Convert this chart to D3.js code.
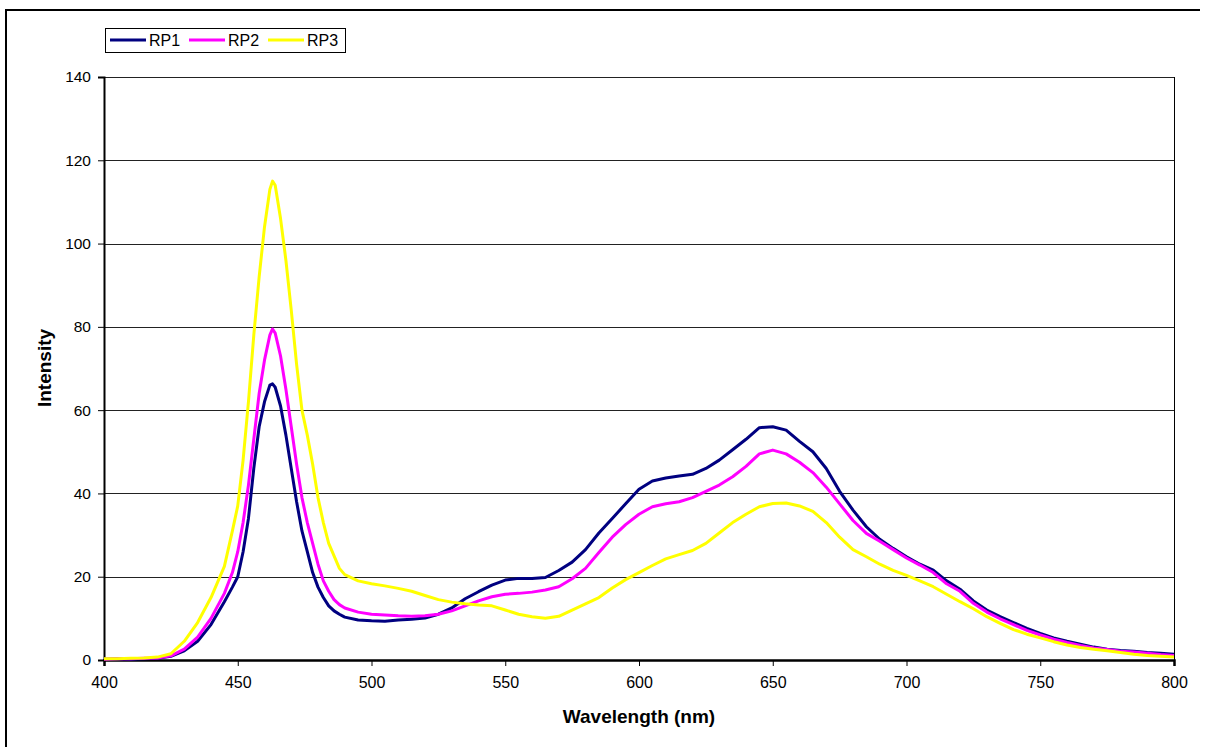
<!DOCTYPE html>
<html>
<head>
<meta charset="utf-8">
<script src="https://cdn.jsdelivr.net/npm/d3@7"></script>
<style>
  body { margin: 0; background: #fff; }
  text { font-family: "Liberation Sans", Arial, sans-serif; }
</style>
</head>
<body>
<svg id="chart"></svg>
<script>
// wavelengths (nm), denser around the blue peak
let wavelengths = [400,405,410,415,420,425,430,435,440,445,448,450,452,454,456,458,460,462,463,464,466,468,470,472,474,476,478,480,482,484,486,488,490,495,
  500,505,510,515,520,525,530,535,540,545,550,555,560,565,570,575,580,585,590,595,600,605,610,615,620,625,630,635,640,645,650,655,660,665,670,675,680,685,690,695,
  700,705,710,715,720,725,730,735,740,745,750,755,760,765,770,775,780,785,790,795,800];

let rp1 = [0.2,0.3,0.2,0.3,0.4,0.9,2.2,4.5,8.5,14,17.5,20,26,34,46,56,62,66,66.3,65.5,61,54,46,38,31,26,21,17.5,15,13,11.8,11,10.3,9.6,
  9.4,9.3,9.6,9.8,10.1,11,12.5,14.7,16.4,18,19.2,19.6,19.6,19.8,21.5,23.5,26.5,30.5,34,37.5,41,43,43.7,44.2,44.6,46,48,50.5,53,55.8,56,55.2,52.5,50,46,40.5,36,32,29,26.8,
  24.8,23,21.6,19,17,14.2,12,10.4,9,7.6,6.4,5.3,4.5,3.8,3.1,2.6,2.3,2.1,1.8,1.6,1.4];

let rp2 = [0.2,0.3,0.3,0.4,0.5,1,2.6,5.5,10,16,21,26,33,42,53,64,72,78,79.5,78.5,73,65,56,47,39,33,28,23,19,16.5,14.5,13.3,12.5,11.5,
  11,10.8,10.6,10.5,10.6,11,11.8,13,14.2,15.2,15.8,16,16.3,16.8,17.6,19.5,22,25.8,29.5,32.5,35,36.8,37.5,38,39,40.5,42,44,46.5,49.5,50.4,49.5,47.5,45,41.5,37.5,33.5,30.4,28.5,26.5,
  24.5,22.8,21,18.3,16.5,13.6,11.5,9.9,8.5,7.1,6,5,4.2,3.5,2.9,2.5,2.1,1.9,1.6,1.3,1.1];

let rp3 = [0.3,0.3,0.4,0.5,0.7,1.5,4.5,9,15,22.5,31,37,48,62,78,92,104,113,115,114,106,96,84,71,60,54,47,39,33,28,25,22,20.5,19,
  18.3,17.8,17.2,16.5,15.5,14.5,13.9,13.5,13.2,13,12,11,10.4,10,10.5,12,13.5,15,17.3,19.3,21,22.7,24.3,25.3,26.3,28,30.5,33,35,36.8,37.6,37.7,37,35.7,33,29.5,26.5,24.8,23,21.5,
  20.3,19,17.6,15.8,14,12.3,10.4,8.8,7.3,6.2,5.3,4.4,3.6,3,2.6,2.2,1.8,1.4,1.1,0.9,0.7];

let seriesNames = ["RP1", "RP2", "RP3"];
let seriesColors = ["#000080", "#FF00FF", "#FFFF00"];
let seriesValues = [rp1, rp2, rp3];

let xTicks = [400, 450, 500, 550, 600, 650, 700, 750, 800];
let yTicks = [0, 20, 40, 60, 80, 100, 120, 140];

let w = 1208;
let h = 747;
let plotLeft = 104, plotRight = 1174, plotTop = 77, plotBottom = 660;

let svg = d3.select("#chart").attr("width", w).attr("height", h);

// outer frame
svg.append("path")
   .attr("d", "M6,760 V10 H1200")
   .attr("fill", "none")
   .attr("stroke", "black")
   .attr("stroke-width", 2);

let scalex = d3.scaleLinear().domain([400, 800]).range([plotLeft, plotRight]);
let scaley = d3.scaleLinear().domain([0, 140]).range([plotBottom, plotTop]);

// gridlines
svg.append("g")
   .selectAll("line")
   .data(yTicks.filter(d => d > 0))
   .enter()
   .append("line")
   .attr("x1", plotLeft).attr("x2", plotRight)
   .attr("y1", d => Math.round(scaley(d)) + 0.5)
   .attr("y2", d => Math.round(scaley(d)) + 0.5)
   .attr("stroke", "#222")
   .attr("stroke-width", 1);

// right edge of plot area
svg.append("line")
   .attr("x1", plotRight + 0.5).attr("x2", plotRight + 0.5)
   .attr("y1", plotTop).attr("y2", plotBottom)
   .attr("stroke", "black");

// y axis
let yAxis = svg.append("g")
   .attr("transform", "translate(" + plotLeft + ",0)")
   .call(d3.axisLeft(scaley).tickValues(yTicks).tickSize(6).tickPadding(7));
yAxis.select(".domain").attr("stroke-width", 2);
yAxis.selectAll("text").attr("font-size", "15.5px").attr("fill", "#000")
     .style("font-family", "'Liberation Sans', Arial, sans-serif");

// x axis
let xAxis = svg.append("g")
   .attr("transform", "translate(0," + plotBottom + ")")
   .call(d3.axisBottom(scalex).tickValues(xTicks).tickSize(6).tickPadding(11));
xAxis.select(".domain").attr("stroke-width", 2.5);
xAxis.selectAll("text").attr("font-size", "16px").attr("fill", "#000")
     .style("font-family", "'Liberation Sans', Arial, sans-serif");

// lines
let line = d3.line()
   .x((d, i) => scalex(wavelengths[i]))
   .y(d => scaley(d));

svg.append("g")
   .selectAll("path")
   .data(seriesValues)
   .enter()
   .append("path")
   .attr("d", d => line(d))
   .attr("fill", "none")
   .attr("stroke", (d, i) => seriesColors[i])
   .attr("stroke-width", 3)
   .attr("stroke-linejoin", "round");

// axis titles
svg.append("text")
   .attr("x", 639).attr("y", 723)
   .attr("text-anchor", "middle")
   .attr("font-size", "19px")
   .attr("font-weight", "bold")
   .text("Wavelength (nm)");

svg.append("text")
   .attr("transform", "translate(51,368) rotate(-90)")
   .attr("text-anchor", "middle")
   .attr("font-size", "19px")
   .attr("font-weight", "bold")
   .text("Intensity");

// legend
let legend = svg.append("g");
legend.append("rect")
   .attr("x", 105.5).attr("y", 28.5)
   .attr("width", 240).attr("height", 24)
   .attr("fill", "white")
   .attr("stroke", "black");

let legendx = d3.scaleLinear().domain([0, 2]).range([110, 268]);

legend.selectAll("line")
   .data(seriesNames)
   .enter()
   .append("line")
   .attr("x1", (d, i) => legendx(i))
   .attr("x2", (d, i) => legendx(i) + 36)
   .attr("y1", 40).attr("y2", 40)
   .attr("stroke", (d, i) => seriesColors[i])
   .attr("stroke-width", 3);

legend.selectAll("text")
   .data(seriesNames)
   .enter()
   .append("text")
   .attr("x", (d, i) => legendx(i) + 39)
   .attr("y", 46)
   .attr("font-size", "16px")
   .text(d => d);
</script>
</body>
</html>
